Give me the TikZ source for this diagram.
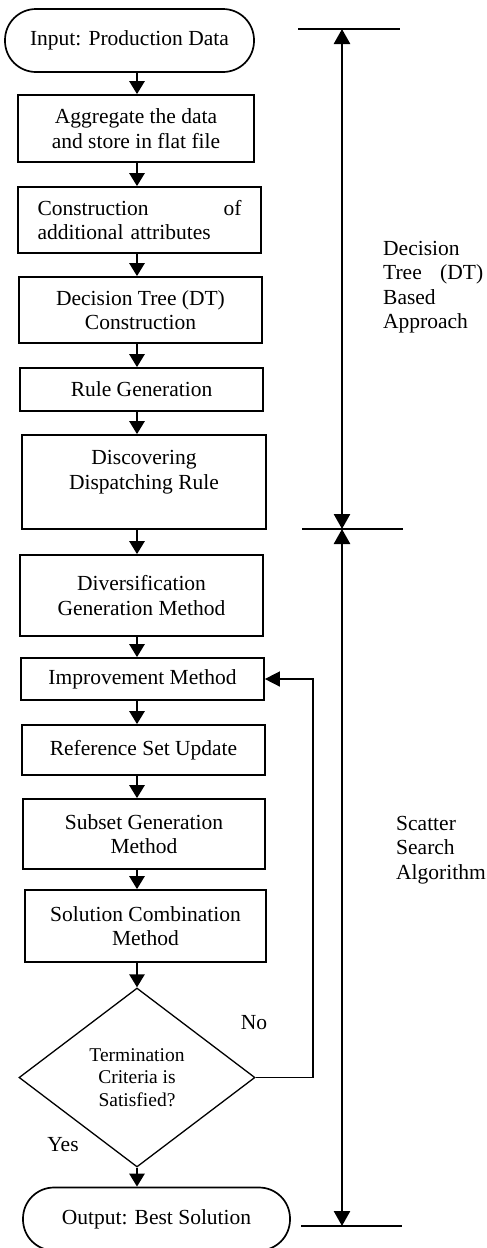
\documentclass[tikz,border=0pt]{standalone}
\usepackage{fontspec}
\setmainfont{Liberation Serif}
\usetikzlibrary{arrows.meta,shapes.geometric}
\begin{document}
\begin{tikzpicture}[x=1pt,y=-1pt,
    font=\fontsize{21.5}{24.5}\selectfont,
    box/.style={draw,line width=1.7pt,align=center,inner sep=0pt},
    term/.style={draw,line width=1.7pt,rounded corners=31pt,align=center,inner sep=0pt},
    flow/.style={line width=2.6pt,-{Triangle[width=15pt,length=13pt]}},
    back/.style={line width=1.5pt,-{Triangle[width=15pt,length=15pt]}},
    span/.style={line width=2.6pt,{Triangle[width=16pt,length=15pt]}-{Triangle[width=16pt,length=15pt]}},
    tick/.style={line width=1.4pt}]
  \useasboundingbox (0,0) rectangle (487,1248);
  % main flow
  \node[term, minimum width=249pt, minimum height=63pt] (in) at (129.5,40.5) {Input: Production Data};
  \node[box, minimum width=236pt, minimum height=67pt] (agg) at (136,128.5) {Aggregate the data\\and store in flat file};
  \node[box, minimum width=243pt, minimum height=66pt, text width=204pt, align=left] (con) at (139.5,220) {Construction \hfill of\\additional attributes};
  \node[box, minimum width=243pt, minimum height=66pt] (dt) at (140.5,310) {Decision Tree (DT)\\Construction};
  \node[box, minimum width=243pt, minimum height=43pt] (rule) at (141.5,389.5) {Rule Generation};
  \node[box, minimum width=244pt, minimum height=94pt] (disc) at (144,482) {Discovering\\Dispatching Rule\\~};
  \node[box, minimum width=243pt, minimum height=81pt] (div) at (141.5,595.5) {Diversification\\Generation Method};
  \node[box, minimum width=243pt, minimum height=42pt] (imp) at (142.5,679) {Improvement Method};
  \node[box, minimum width=243pt, minimum height=50pt] (ref) at (143.5,750) {Reference Set Update};
  \node[box, minimum width=242pt, minimum height=70pt] (sub) at (144,834) {Subset Generation\\Method};
  \node[box, minimum width=241pt, minimum height=72pt] (sol) at (145.5,926) {Solution Combination\\Method};
  \node[diamond, draw, line width=1.3pt, inner sep=0pt, align=center,
    minimum width=236pt, minimum height=179pt, font=\fontsize{19.5}{22.5}\selectfont] (crit) at (137,1077.5) {Termination\\Criteria is\\Satisfied?};
  \node[term, minimum width=267pt, minimum height=63pt] (out) at (156.5,1219) {Output: Best Solution};
  \node (no) at (254,1023) {No};
  \node (yes) at (63,1145) {Yes};
  \draw[flow] (in.south -| crit) -- (agg.north -| crit);
  \draw[flow] (agg.south -| crit) -- (con.north -| crit);
  \draw[flow] (con.south -| crit) -- (dt.north -| crit);
  \draw[flow] (dt.south -| crit) -- (rule.north -| crit);
  \draw[flow] (rule.south -| crit) -- (disc.north -| crit);
  \draw[flow] (disc.south -| crit) -- (div.north -| crit);
  \draw[flow] (div.south -| crit) -- (imp.north -| crit);
  \draw[flow] (imp.south -| crit) -- (ref.north -| crit);
  \draw[flow] (ref.south -| crit) -- (sub.north -| crit);
  \draw[flow] (sub.south -| crit) -- (sol.north -| crit);
  \draw[flow] (sol.south -| crit) -- (crit.north);
  \draw[flow] (crit.south) -- (out.north -| crit);
  \coordinate (turn) at (313,1077.5);
  \draw[back] (crit.east) -- (turn) |- (imp.east);
  % phases
  \coordinate (t1) at (342,29);
  \coordinate (t2) at (342,529);
  \coordinate (t3) at (342,1226);
  \draw[tick] ([xshift=-44pt]t1) -- ([xshift=58pt]t1);
  \draw[tick] ([xshift=-40pt]t2) -- ([xshift=61pt]t2);
  \draw[tick] ([xshift=-41pt]t3) -- ([xshift=60pt]t3);
  \draw[span] (t1) -- (t2);
  \draw[span] (t2) -- (t3);
  \node[anchor=west, inner sep=0pt, text width=100pt, align=left] (dtl) at (383,287) {Decision\\Tree \hfill (DT)\\Based\\Approach};
  \node[anchor=west, inner sep=0pt, align=left] (ssl) at (396,850) {Scatter\\Search\\Algorithm};
\end{tikzpicture}
\end{document}
